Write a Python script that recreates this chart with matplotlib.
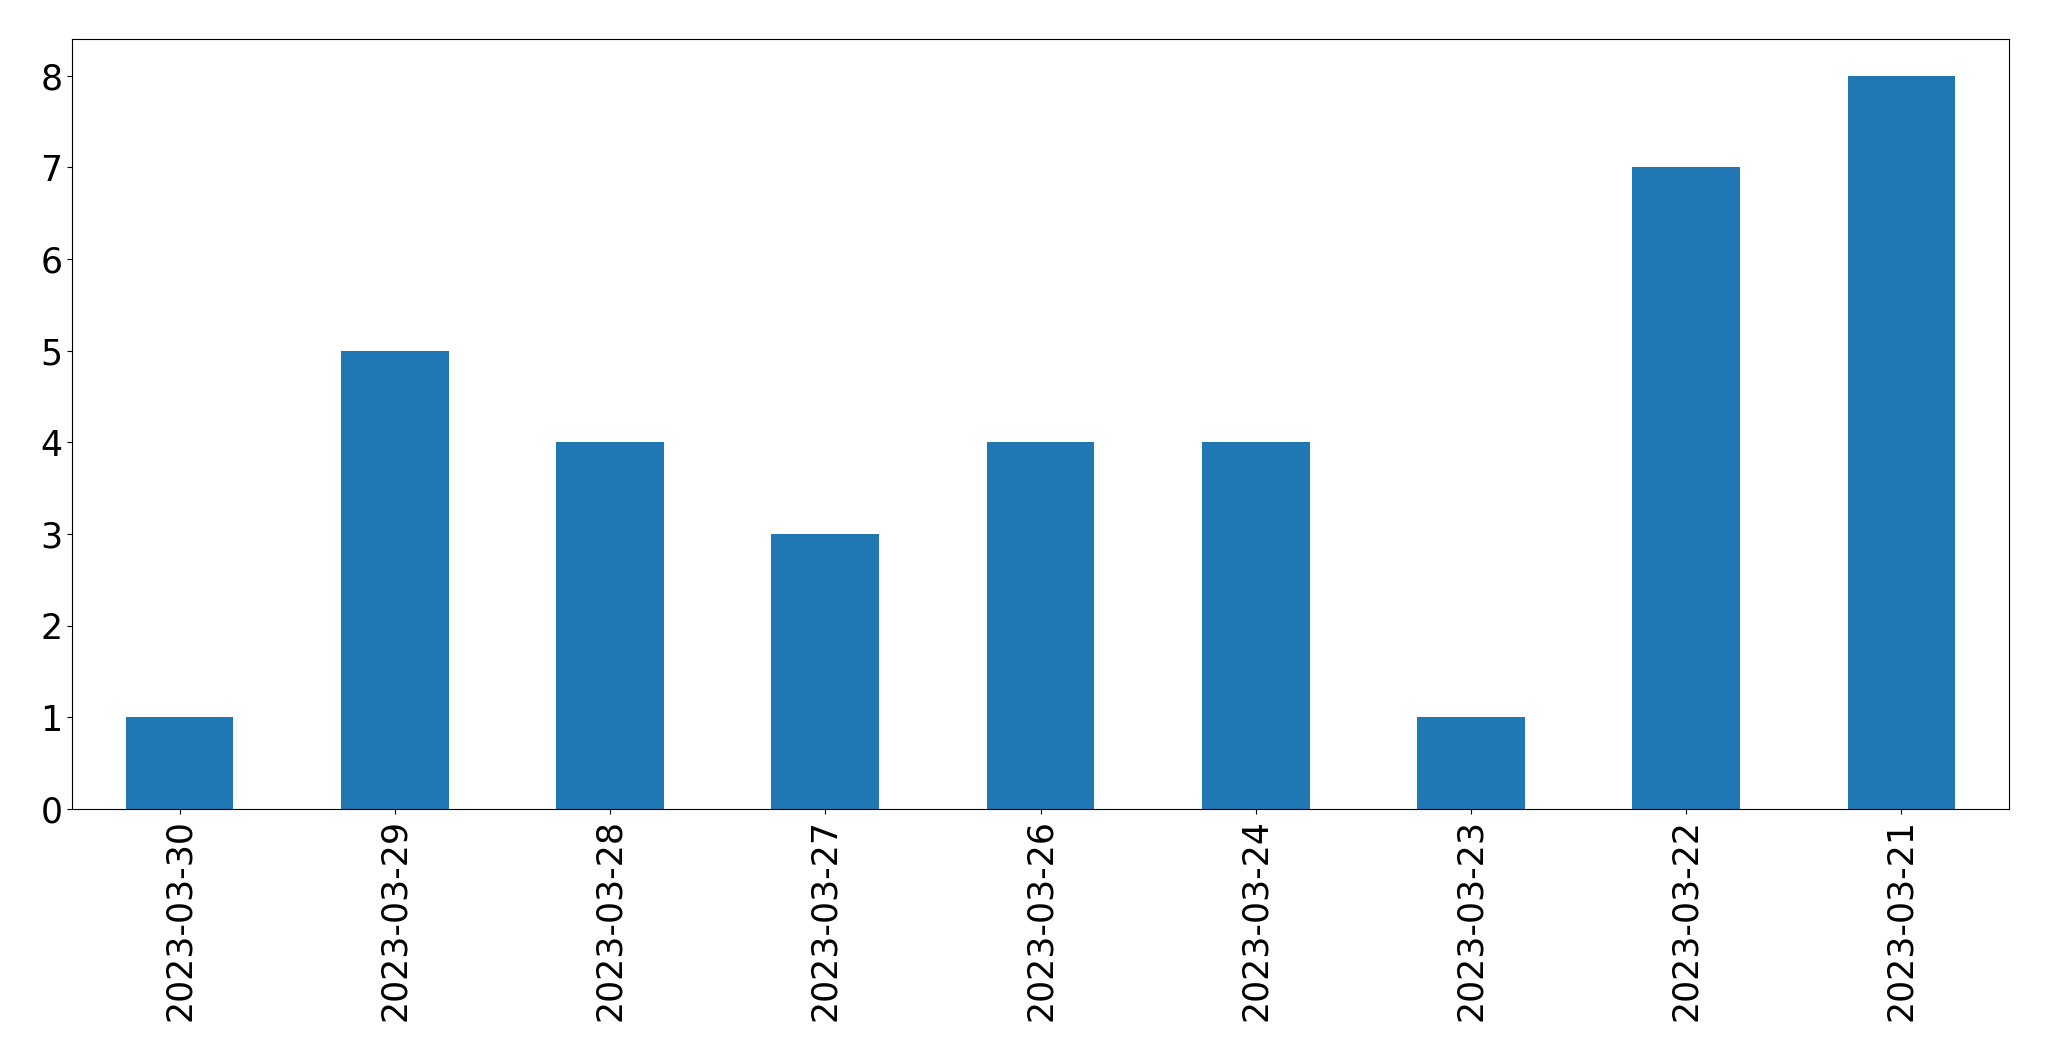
import matplotlib
matplotlib.use("Agg")
import matplotlib.pyplot as plt
import numpy as np

dates = ["2023-03-30", "2023-03-29", "2023-03-28", "2023-03-27", "2023-03-26",
         "2023-03-24", "2023-03-23", "2023-03-22", "2023-03-21"]
counts = [1, 5, 4, 3, 4, 4, 1, 7, 8]

fig = plt.figure(figsize=(20.49, 10.61), dpi=100)
ax = fig.add_axes([72/2049, 1-809/1061, (2009-72)/2049, (809-39)/1061])
x = np.arange(len(dates))
ax.bar(x, counts, width=0.5, color="#1f77b4")
ax.set_xlim(-0.5, len(dates) - 0.5)
ax.set_ylim(0, max(counts) * 1.05)
ax.set_xticks(x)
ax.set_xticklabels(dates, rotation=90)
ax.tick_params(axis="both", labelsize=25)
fig.savefig("out.png", dpi=100)
